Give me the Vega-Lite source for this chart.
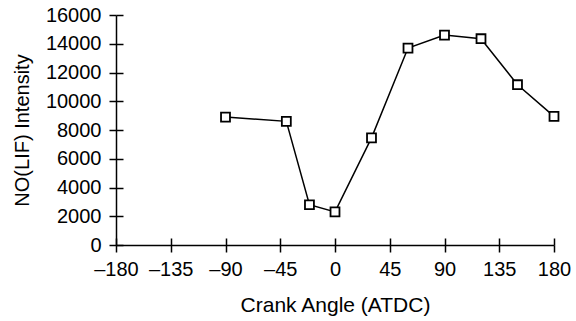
{
  "$schema": "https://vega.github.io/schema/vega-lite/v6.json",
  "width": 438,
  "height": 230,
  "autosize": {"type": "none"},
  "padding": {"left": 116, "top": 15, "right": 22, "bottom": 76},
  "background": "white",
  "config": {"view": {"stroke": null}, "font": "Liberation Sans"},
  "data": {"values": [
    {"angle": -90, "intensity": 8900},
    {"angle": -40, "intensity": 8600},
    {"angle": -21, "intensity": 2800},
    {"angle": 0, "intensity": 2300},
    {"angle": 30, "intensity": 7450},
    {"angle": 60, "intensity": 13700},
    {"angle": 90, "intensity": 14600},
    {"angle": 120, "intensity": 14350},
    {"angle": 150, "intensity": 11150},
    {"angle": 180, "intensity": 8950}
  ]},
  "encoding": {
    "x": {
      "field": "angle", "type": "quantitative",
      "scale": {"domain": [-180, 180], "nice": false, "zero": false},
      "axis": {
        "values": [-180, -135, -90, -45, 0, 45, 90, 135, 180],
        "labelExpr": "datum.value < 0 ? '–' + abs(datum.value) : '' + datum.value",
        "labelFontSize": 20, "labelColor": "black", "labelFlush": false, "labelOverlap": false,
        "labelPadding": 7,
        "tickColor": "black", "tickSize": 7, "tickWidth": 1.5,
        "domainColor": "black", "domainWidth": 1.5,
        "grid": true, "gridColor": "black", "gridWidth": 1.5, "gridOpacity": 1, "gridDash": [0, 223, 7, 1000],
        "title": "Crank Angle (ATDC)", "titleFontSize": 21, "titleFontWeight": "normal", "titleColor": "black",
        "titleX": 219, "titleY": 66.5, "titleBaseline": "alphabetic", "titleAlign": "center"
      }
    },
    "y": {
      "field": "intensity", "type": "quantitative",
      "scale": {"domain": [0, 16000], "nice": false},
      "axis": {
        "values": [0, 2000, 4000, 6000, 8000, 10000, 12000, 14000, 16000],
        "format": "d",
        "labelFontSize": 20, "labelColor": "black", "labelFlush": false, "labelOverlap": false,
        "labelPadding": 8,
        "tickColor": "black", "tickSize": 7, "tickWidth": 1.5,
        "domainColor": "black", "domainWidth": 1.5,
        "grid": true, "gridColor": "black", "gridWidth": 1.5, "gridOpacity": 1, "gridDash": [7, 1000],
        "title": "NO(LIF) Intensity", "titleFontSize": 20, "titleFontWeight": "normal", "titleColor": "black",
        "titleX": -88, "titleY": 115, "titleBaseline": "alphabetic", "titleAlign": "center", "titleAngle": -90
      }
    }
  },
  "layer": [
    {"mark": {"type": "line", "color": "black", "strokeWidth": 1.5}},
    {"mark": {"type": "point", "shape": "square", "filled": true, "fill": "white", "stroke": "black", "strokeWidth": 1.8, "size": 80, "opacity": 1}}
  ]
}
